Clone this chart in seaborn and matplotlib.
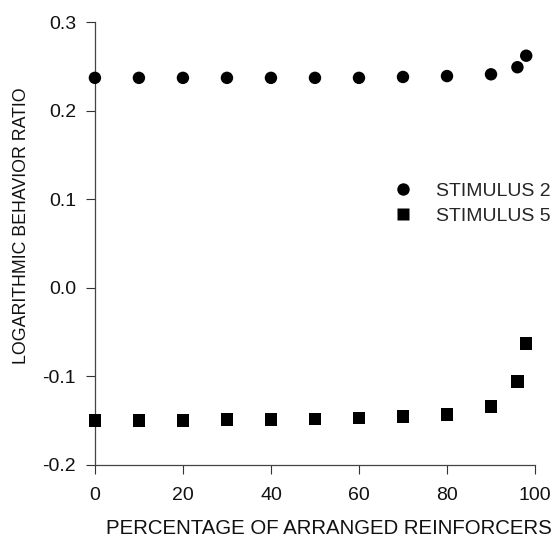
import numpy as np
import pandas as pd
import seaborn as sns
import matplotlib.pyplot as plt

# percentage of arranged reinforcers
pct = [0, 10, 20, 30, 40, 50, 60, 70, 80, 90, 96, 98]
stim2 = [0.237, 0.237, 0.237, 0.237, 0.237, 0.237, 0.237, 0.238, 0.239, 0.241, 0.249, 0.262]
stim5 = [-0.150, -0.150, -0.150, -0.149, -0.149, -0.148, -0.147, -0.1455, -0.143, -0.134, -0.106, -0.063]
labels = ["STIMULUS 2", "STIMULUS 5"]

df = pd.DataFrame({
    "pct": pct * 2,
    "ratio": stim2 + stim5,
    "series": [labels[0]] * len(pct) + [labels[1]] * len(pct),
})

sns.set_theme(style="ticks")
plt.rcParams["font.family"] = ["Liberation Sans", "DejaVu Sans"]

fig = plt.figure(figsize=(5.55, 5.38), dpi=100)
ax = fig.add_axes([0.171, 0.136, 0.793, 0.823])

sns.scatterplot(data=df, x="pct", y="ratio", hue="series", style="series",
                markers={labels[0]: "o", labels[1]: "s"},
                palette={labels[0]: "black", labels[1]: "black"},
                s=80, edgecolor="none", ax=ax, clip_on=False, zorder=3)

# small error bar under the first stimulus 5 point
ax.errorbar([pct[0]], [stim5[0]], yerr=[[0.03], [0.0]], fmt="none",
            ecolor="black", elinewidth=1.2, capsize=0, zorder=2)

ax.set_xlim(0, 100)
ax.set_ylim(-0.2, 0.3)
ax.set_xticks([0, 20, 40, 60, 80, 100])
ax.set_yticks([-0.2, -0.1, 0.0, 0.1, 0.2, 0.3])
ax.set_yticklabels(["-0.2", "-0.1", "0.0", "0.1", "0.2", "0.3"])
ax.set_xlabel("PERCENTAGE OF ARRANGED REINFORCERS", fontsize=14.7, color="#111111")
ax.set_ylabel("LOGARITHMIC BEHAVIOR RATIO", fontsize=12.8, color="#111111")
ax.xaxis.set_label_coords(0.532, -0.123)
ax.yaxis.set_label_coords(-0.147, 0.54)
ax.tick_params(labelsize=14, colors="#333333", labelcolor="#111111", length=6.5, width=0.8, pad=7)
ax.tick_params(axis="x", pad=9.5)
sns.despine(ax=ax)
for sp in ("left", "bottom"):
    ax.spines[sp].set_color("#444444")
    ax.spines[sp].set_linewidth(0.9)

ax.legend(title=None, frameon=False, fontsize=14, loc="center left",
          bbox_to_anchor=(0.615, 0.59), handletextpad=0.7, labelspacing=0.4,
          markerscale=1.0)

fig.savefig("out.png", dpi=100)
